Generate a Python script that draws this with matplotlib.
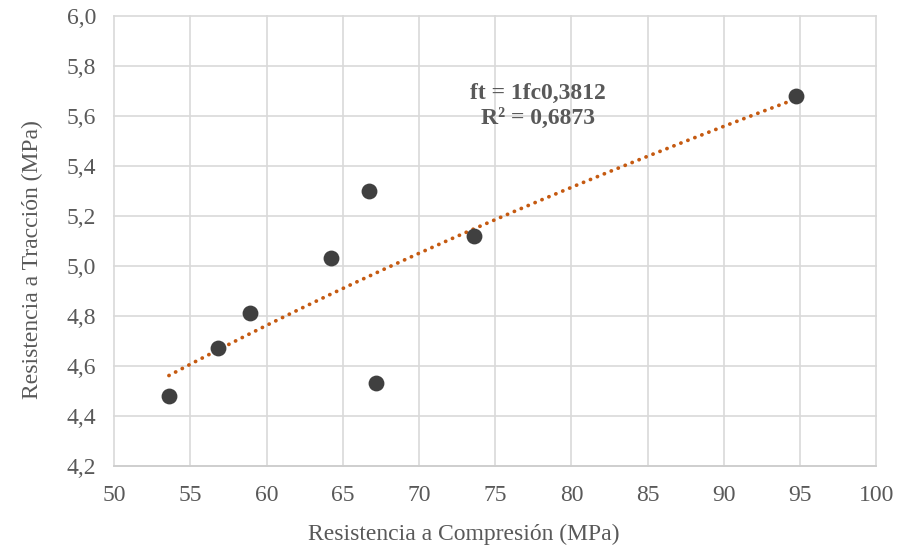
import numpy as np
import matplotlib.pyplot as plt
from matplotlib.ticker import FuncFormatter, MultipleLocator

# Measured data (MPa)
fc = [53.6, 56.8, 58.9, 64.2, 66.7, 67.2, 73.6, 94.7]
ft = [4.48, 4.67, 4.81, 5.03, 5.30, 4.53, 5.12, 5.68]

x_label = "Resistencia a Compresión (MPa)"
y_label = "Resistencia a Tracción (MPa)"
eq_text = "ft = 1fc0,3812\nR² = 0,6873"

plt.rcParams['font.family'] = ['Liberation Serif', 'DejaVu Serif']
grey = '#595959'

fig = plt.figure(figsize=(8.98, 5.48), dpi=100)
ax = fig.add_axes([0.127, 0.150, 0.849, 0.821])

# power trend line fitted in log space
b, ln_a = np.polyfit(np.log(fc), np.log(ft), 1)
xt = np.linspace(min(fc), max(fc), 200)
yt = np.exp(ln_a) * xt ** b
ax.plot(xt, yt, color='#C55A11', linewidth=2.7, linestyle=(0, (0.05, 1.95)),
        dash_capstyle='round', zorder=3)

ax.scatter(fc, ft, s=130, color='#404040', zorder=4, linewidths=0)

ax.set_xlim(50, 100)
ax.set_ylim(4.2, 6.0)
ax.xaxis.set_major_locator(MultipleLocator(5))
ax.yaxis.set_major_locator(MultipleLocator(0.2))
ax.yaxis.set_major_formatter(FuncFormatter(lambda v, p: f"{v:.1f}".replace('.', ',')))
ax.xaxis.set_major_formatter(FuncFormatter(lambda v, p: f"{v:.0f}"))

ax.grid(True, color='#d9d9d9', linewidth=1.2)
ax.set_axisbelow(True)
for s in ax.spines.values():
    s.set_visible(False)
ax.spines['bottom'].set_visible(True)
ax.spines['bottom'].set_color('#cccccc')
ax.spines['bottom'].set_linewidth(1.2)
for gl in ax.get_xgridlines() + ax.get_ygridlines():
    gl.set_clip_on(False)

ax.tick_params(axis='both', length=0, labelsize=17, labelcolor=grey)
ax.tick_params(axis='y', pad=13)
ax.tick_params(axis='x', pad=14)

ax.set_xlabel(x_label, fontsize=17, color=grey)
ax.set_ylabel(y_label, fontsize=17, color=grey)
# Excel places the titles slightly off-centre
ax.xaxis.set_label_coords(0.459, -0.130)
ax.yaxis.set_label_coords(-0.093, 0.458)

ax.text(77.8, 5.64, eq_text, fontsize=17, fontweight='bold', color=grey,
        ha='center', va='center', linespacing=1.2)

fig.savefig('out.png', dpi=100)
